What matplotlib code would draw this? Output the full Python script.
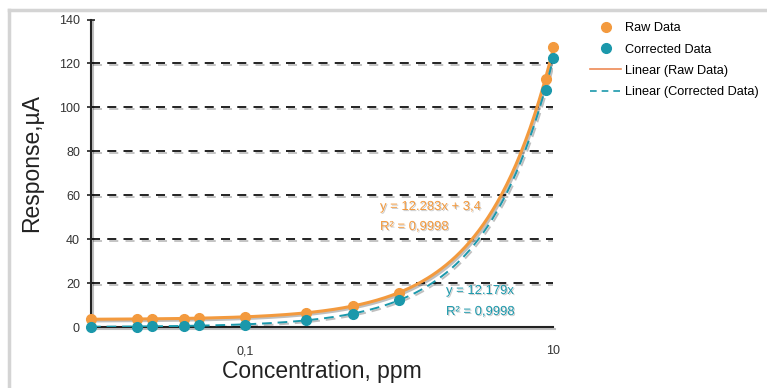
import numpy as np
import matplotlib
matplotlib.use('Agg')
import matplotlib.pyplot as plt
import matplotlib.patheffects as pe
from matplotlib.lines import Line2D

plt.rcParams['font.family'] = ['Liberation Sans', 'DejaVu Sans']

# data
conc = [0.01, 0.02, 0.025, 0.04, 0.05, 0.1, 0.25, 0.5, 1, 9, 10]
raw = [3.6, 3.7, 3.7, 3.8, 4.1, 4.5, 6.5, 9.5, 15.6, 113, 127.5]
corrected = [0.1, 0.2, 0.3, 0.4, 0.7, 1.0, 3.1, 6.0, 12.2, 108, 122.5]

# trendline coefficients as printed on the chart
raw_slope, raw_icpt = 12.283, 3.4
cor_slope, cor_icpt = 12.179, 0.0

yticks = [0, 20, 40, 60, 80, 100, 120, 140]
xticks = [0.1, 10]
xticklabels = ['0,1', '10']

orange = '#F39A3E'
teal = '#1B98AB'

shadow = [pe.SimpleLineShadow(offset=(1.2, -1.2), alpha=0.25, shadow_color='k'), pe.Normal()]
tshadow = [pe.SimplePatchShadow(offset=(0.8, -0.8), alpha=0.2, shadow_rgbFace='k'), pe.Normal()]

fig = plt.figure(figsize=(7.67, 3.88), dpi=100)
ax = fig.add_axes([91/767, 1-327/388, (553-91)/767, (327-19.5)/388])

# gray frame (only top and left visible)
fig.add_artist(Line2D([9/767, 9/767], [0, 1-10/388], color='#d4d4d4', lw=2.5))
fig.add_artist(Line2D([9/767, 1], [1-10/388, 1-10/388], color='#d4d4d4', lw=2.5))

# dashed gridlines
for v in yticks[1:-1]:
    ax.axhline(v, color='#111111', lw=1.3, ls=(0, (5, 4)), zorder=1, path_effects=shadow)

xx = np.logspace(-2, 1, 300)
ax.plot(xx, raw_slope*xx + raw_icpt, color=orange, lw=2.2, zorder=3, path_effects=shadow)
ax.plot(xx, cor_slope*xx + cor_icpt, color=teal, lw=1.4, ls=(0, (5, 3)), zorder=3,
        path_effects=shadow)
ax.plot(conc, raw, 'o', color=orange, ms=7, zorder=4, clip_on=False)
ax.plot(conc, corrected, 'o', color=teal, ms=7, zorder=5, clip_on=False)

ax.set_xscale('log')
ax.set_xlim(0.01, 10)
ax.set_ylim(0, 140)
ax.set_xticks(xticks)
ax.set_xticklabels(xticklabels)
ax.minorticks_off()
ax.set_yticks(yticks)
ax.tick_params(axis='x', length=0, pad=13, labelsize=9, colors='#333333')
ax.tick_params(axis='y', direction='inout', length=6, width=1.2, pad=5, labelsize=9,
               colors='#222222', labelcolor='#333333')
for s in ['top', 'right']:
    ax.spines[s].set_visible(False)
for s in ['left', 'bottom']:
    ax.spines[s].set_linewidth(1.5)
    ax.spines[s].set_color('#222222')
    ax.spines[s].set_path_effects(shadow)

ax.set_xlabel('Concentration, ppm', fontsize=16.5, color='#222222', labelpad=2)
ax.set_ylabel('Response,µA', fontsize=16.5, color='#222222')
ax.yaxis.set_label_coords(-0.104, 0.533)

# trendline labels
ax.text(380/767, 1-207/388, 'y = 12.283x + 3,4', transform=fig.transFigure, color=orange,
        fontsize=9.4, va='center', path_effects=tshadow)
ax.text(380/767, 1-227/388, 'R² = 0,9998', transform=fig.transFigure, color=orange,
        fontsize=9.4, va='center', path_effects=tshadow)
ax.text(446/767, 1-291/388, 'y = 12.179x', transform=fig.transFigure, color=teal,
        fontsize=9.4, va='center', path_effects=tshadow)
ax.text(446/767, 1-312/388, 'R² = 0,9998', transform=fig.transFigure, color=teal,
        fontsize=9.4, va='center', path_effects=tshadow)

handles = [
    Line2D([], [], ls='none', marker='o', color=orange, ms=7),
    Line2D([], [], ls='none', marker='o', color=teal, ms=7),
    Line2D([], [], color='#EE8A55', lw=1.2),
    Line2D([], [], color=teal, lw=1.2, ls=(0, (4, 3))),
]
labels = ['Raw Data', 'Corrected Data', 'Linear (Raw Data)', 'Linear (Corrected Data)']
fig.legend(handles, labels, loc='upper left',
           bbox_to_anchor=(584/767, 1-16/388), frameon=False, fontsize=9.2,
           handlelength=2.4, handletextpad=0.3, labelspacing=0.72, borderpad=0)

fig.savefig('out.png', dpi=100)
